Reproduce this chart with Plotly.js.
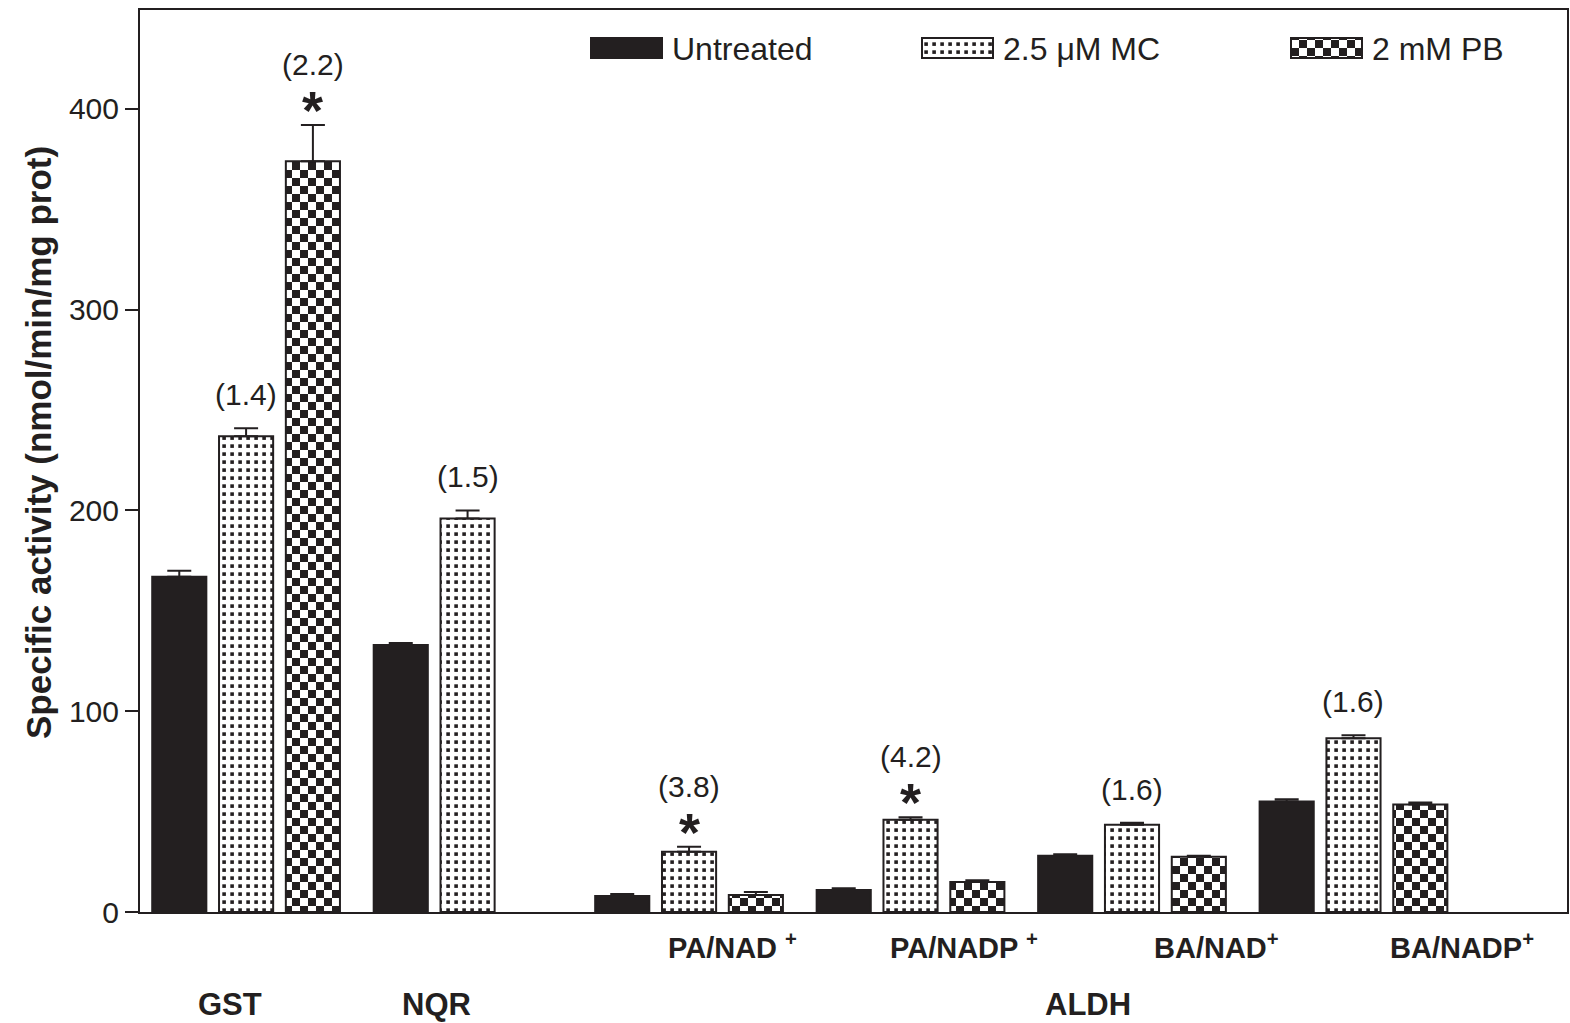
<!DOCTYPE html>
<html><head><meta charset="utf-8">
<script src="https://cdn.plot.ly/plotly-3.0.1.min.js"></script>
<style>html,body{margin:0;padding:0;background:#fff}#chart{width:1570px;height:1023px}</style>
</head><body><div id="chart"></div>
<script>
// ---- data ----
const groupIndex = [0, 1, 2, 3, 4, 5];
const groupLabels = ['GST', 'NQR', 'PA/NAD <sup>+</sup>', 'PA/NADP <sup>+</sup>', 'BA/NAD<sup>+</sup>', 'BA/NADP<sup>+</sup>'];
const seriesNames = ['Untreated', '2.5 μM MC', '2 mM PB'];
const untreated = [167, 133, 8, 11, 28, 55];
const untreatedErr = [3, 1, 1, 0.8, 0.8, 1.2];
const mc = [237, 196, 30, 46, 43.5, 86.5];
const mcErr = [4, 4, 2.5, 1.2, 1, 1.5];
const pb = [374, null, 8.5, 15, 27.5, 53.5];
const pbErr = [18, 0, 1.5, 0.8, 0.5, 1];
const foldGroup = [0, 0, 1, 2, 3, 4, 5];
const foldSeries = [1, 2, 1, 1, 1, 1, 1];
const foldText = ['(1.4)', '(2.2)', '(1.5)', '(3.8)', '(4.2)', '(1.6)', '(1.6)'];
const starGroup = [0, 2, 3];
const starSeries = [2, 1, 1];
const enzymeLabel = 'ALDH';
const yTitle = 'Specific activity (nmol/min/mg prot)';

const FONT = 'Liberation Sans, Arial, Helvetica, sans-serif';
const INK = '#231f20';
const values = [untreated, mc, pb];
const errs = [untreatedErr, mcErr, pbErr];
const BARGAP = 0.095;
const slot = (1 - BARGAP) / 3;

function errBar(arr, vals) {
  return {type: 'data', symmetric: false, array: arr, arrayminus: vals.map(() => 0), color: INK, thickness: 2, width: 12};
}
const traces = [
  {type: 'bar', x: groupIndex, name: seriesNames[0], y: untreated,
   marker: {color: INK, line: {color: INK, width: 2}}, error_y: errBar(untreatedErr, untreated)},
  {type: 'bar', x: groupIndex, name: seriesNames[1], y: mc,
   marker: {color: '#ffffff', line: {color: INK, width: 2},
            pattern: {shape: '.', fgcolor: INK, bgcolor: '#ffffff', size: 8, solidity: 0.18, fillmode: 'overlay'}},
   error_y: errBar(mcErr, mc)},
  {type: 'bar', x: groupIndex, name: seriesNames[2], y: pb,
   marker: {color: '#ffffff', line: {color: INK, width: 2},
            pattern: {shape: 'x', fgcolor: INK, bgcolor: '#ffffff', size: 10, solidity: 0.5, fillmode: 'overlay'}},
   error_y: errBar(pbErr, pb)}
];

const annotations = [];
foldGroup.forEach((g, i) => {
  const s = foldSeries[i];
  const top = values[s][g] + errs[s][g];
  const starred = starGroup.some((sg, k) => sg === g && starSeries[k] === s);
  annotations.push({x: g + (s - 1) * slot, y: top, xref: 'x', yref: 'y', text: foldText[i], showarrow: false,
    yanchor: 'bottom', yshift: starred ? 42 : 15, font: {family: FONT, size: 30, color: INK}});
});
starGroup.forEach((g, i) => {
  const s = starSeries[i];
  const top = values[s][g] + errs[s][g];
  annotations.push({x: g + (s - 1) * slot, y: top, xref: 'x', yref: 'y', text: '<b>*</b>', showarrow: false,
    yanchor: 'bottom', yshift: -17, font: {family: FONT, size: 54, color: INK}});
});
// category labels
const labelX = [-0.0745, 0.858, 2.194, 3.24, 4.38, 5.49];
groupLabels.forEach((t, i) => {
  const big = i < 2;
  annotations.push({x: labelX[i], y: big ? -0.1020 : -0.0377, xref: 'x', yref: 'paper', text: '<b>' + t + '</b>', showarrow: false,
    yanchor: 'middle', font: {family: FONT, size: big ? 31 : 29, color: INK}});
});
annotations.push({x: 3.80, y: -0.1020, xref: 'x', yref: 'paper', text: '<b>' + enzymeLabel + '</b>', showarrow: false,
  yanchor: 'middle', font: {family: FONT, size: 31, color: INK}});
// y-axis title
annotations.push({x: -0.0715, y: 0.521, xref: 'paper', yref: 'paper', text: '<b>' + yTitle + '</b>', showarrow: false,
  textangle: -90, xanchor: 'center', yanchor: 'middle', font: {family: FONT, size: 35, color: INK}});

const layout = {
  width: 1570, height: 1023,
  margin: {l: 140, r: 3, t: 10, b: 111},
  paper_bgcolor: '#ffffff', plot_bgcolor: '#ffffff',
  barmode: 'group', bargap: BARGAP, bargroupgap: 0.19,
  font: {family: FONT, color: INK},
  showlegend: true,
  legend: {orientation: 'h', x: 0.3, xanchor: 'left', y: 0.99, yanchor: 'top', font: {family: FONT, size: 32, color: INK},
           bgcolor: 'rgba(0,0,0,0)', entrywidth: 240, entrywidthmode: 'pixels', traceorder: 'normal'},
  xaxis: {range: [-0.479, 5.964], showticklabels: false, ticks: '', showgrid: false, zeroline: false,
          showline: true, linecolor: INK, linewidth: 2, mirror: true, fixedrange: true},
  yaxis: {range: [0, 449.3], tickvals: [0, 100, 200, 300, 400], ticks: 'outside', ticklen: 13, tickwidth: 2, tickcolor: INK,
          tickfont: {family: FONT, size: 30, color: INK}, showgrid: false, zeroline: false,
          showline: true, linecolor: INK, linewidth: 2, mirror: true},
  annotations: annotations
};

Plotly.newPlot('chart', traces, layout, {displayModeBar: false, staticPlot: true}).then(gd => {
  // replace the library's patterns with the reference's square-dot and checkerboard textures
  const svgNS = 'http://www.w3.org/2000/svg';
  const defs = gd.querySelector('svg.main-svg defs');
  function addPattern(id, size, rects) {
    const p = document.createElementNS(svgNS, 'pattern');
    p.setAttribute('id', id); p.setAttribute('patternUnits', 'userSpaceOnUse');
    p.setAttribute('width', size); p.setAttribute('height', size);
    const bg = document.createElementNS(svgNS, 'rect');
    bg.setAttribute('width', size); bg.setAttribute('height', size); bg.setAttribute('fill', '#ffffff');
    p.appendChild(bg);
    rects.forEach(r => {
      const e = document.createElementNS(svgNS, 'rect');
      e.setAttribute('x', r[0]); e.setAttribute('y', r[1]); e.setAttribute('width', r[2]); e.setAttribute('height', r[3]);
      e.setAttribute('fill', INK); p.appendChild(e);
    });
    defs.appendChild(p);
  }
  addPattern('sqdots', 8, [[2.3, 2.3, 3.6, 3.6]]);
  addPattern('checker', 16, [[0, 0, 8, 8], [8, 8, 8, 8]]);
  const fills = [null, 'url(#sqdots)', 'url(#checker)'];
  gd.querySelectorAll('.barlayer .trace.bars').forEach((t, i) => {
    if (fills[i]) t.querySelectorAll('.point path').forEach(p => { p.style.fill = fills[i]; });
  });
  // legend: wide swatches as in the reference
  gd.querySelectorAll('.legend [clip-path]').forEach(e => e.removeAttribute('clip-path'));
  const swLeft = [591, 922, 1291];
  const swCY = 48;
  gd.querySelectorAll('.legend .traces').forEach((t, i) => {
    const p = t.querySelector('.legendpoints path');
    if (!p) return;
    p.setAttribute('d', 'M0,-10H71V10H0Z');
    p.setAttribute('transform', 'translate(0,0)');
    p.style.strokeWidth = '2px';
    if (fills[i]) p.style.fill = fills[i];
    const txt = t.querySelector('text.legendtext');
    if (txt) txt.setAttribute('x', 81);
    const r = p.getBoundingClientRect();
    const m = /translate\(\s*([-\d.e]+)[\s,]*([-\d.e]*)\s*\)/.exec(t.getAttribute('transform') || '');
    const cx = m ? parseFloat(m[1]) : 0, cy = (m && m[2]) ? parseFloat(m[2]) : 0;
    const dx = swLeft[i] - r.left, dy = swCY - (r.top + r.height / 2);
    t.setAttribute('transform', 'translate(' + (cx + dx) + ',' + (cy + dy) + ')');
  });
});
</script></body></html>
